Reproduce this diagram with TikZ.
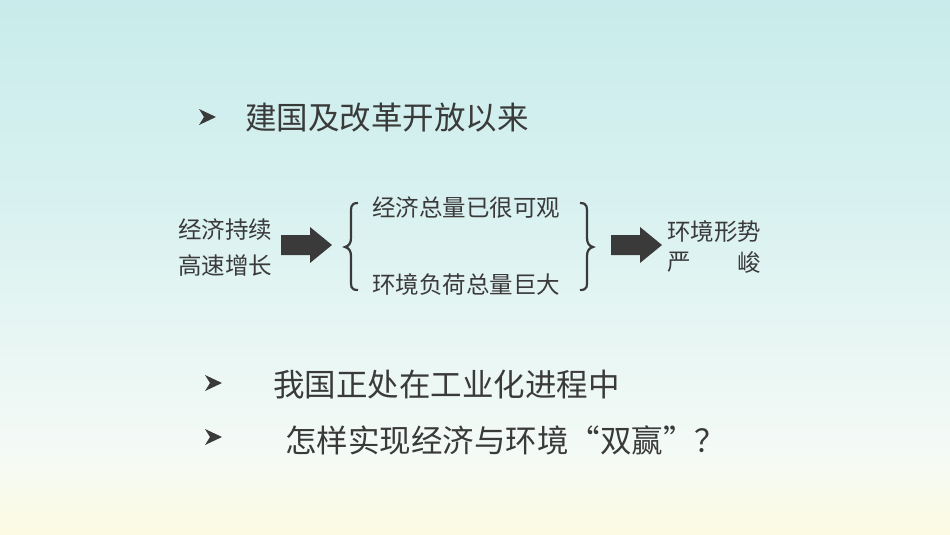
\documentclass[tikz,border=0pt]{standalone}
\usepackage{fontspec}
\setmainfont{Noto Sans CJK SC}
\definecolor{txt}{RGB}{58,58,58}
\definecolor{c1}{RGB}{200,236,235}
\definecolor{c2}{RGB}{216,241,240}
\definecolor{c3}{RGB}{244,250,246}
\definecolor{c4}{RGB}{252,250,226}
\tikzset{
 big/.style={text=txt,font=\fontsize{31.5}{33}\selectfont,anchor=west,inner sep=0},
 mid/.style={text=txt,font=\fontsize{23.5}{25}\selectfont,anchor=west,inner sep=0}
}
\newcommand{\bul}[1]{\fill[txt] (#1) ++(-8,-8) -- ++(17,8) -- ++(-17,8) -- ++(5,-8) -- cycle;}
\newcommand{\fatarr}[1]{\fill[txt] (#1) ++(-25,-10) -- ++(29,0) -- ++(0,-8) -- ++(22,18) -- ++(-22,18) -- ++(0,-8) -- ++(-29,0) -- cycle;}
\begin{document}
\begin{tikzpicture}[x=1pt,y=-1pt]
\useasboundingbox (0,0) rectangle (950,535);
\shade[top color=c1,bottom color=c2,draw=none] (0,0) rectangle (950,200.5);
\shade[top color=c2,bottom color=c3,draw=none] (0,200) rectangle (950,450.5);
\shade[top color=c3,bottom color=c4,draw=none] (0,450) rectangle (950,535);
\coordinate (b1) at (207,117);
\coordinate (b2) at (213,383);
\coordinate (b3) at (213,437);
\bul{b1}\bul{b2}\bul{b3}
\node[big] (t1) at (245,118) {建国及改革开放以来};
\node[mid] (l1) at (178,230) {经济持续};
\node[mid] (l2) at (178,266) {高速增长};
\coordinate (a1) at (306,245);
\fatarr{a1}
\node[mid] (m1) at (372,208) {经济总量已很可观};
\node[mid] (m2) at (372,285) {环境负荷总量巨大};
\draw[txt,line width=2.2] (358,203) .. controls (350,203) and (351,208) .. (351,215) -- (351,238) .. controls (351,243) and (349,246) .. (345,247) .. controls (349,248) and (351,251) .. (351,256) -- (351,278) .. controls (351,286) and (350,290) .. (358,290);
\draw[txt,line width=2.2] (580,203) .. controls (588,203) and (587,208) .. (587,215) -- (587,238) .. controls (587,243) and (589,246) .. (593,247) .. controls (589,248) and (587,251) .. (587,256) -- (587,278) .. controls (587,286) and (588,290) .. (580,290);
\coordinate (a2) at (636,245);
\fatarr{a2}
\node[mid] (r1) at (667,232) {环境形势};
\node[mid] (r2) at (667,262) {严};
\node[mid] (r3) at (737,262) {峻};
\node[big] (t2) at (273,385) {我国正处在工业化进程中};
\node[big] (t3) at (285,440) {怎样实现经济与环境“双赢”？};
\end{tikzpicture}
\end{document}
